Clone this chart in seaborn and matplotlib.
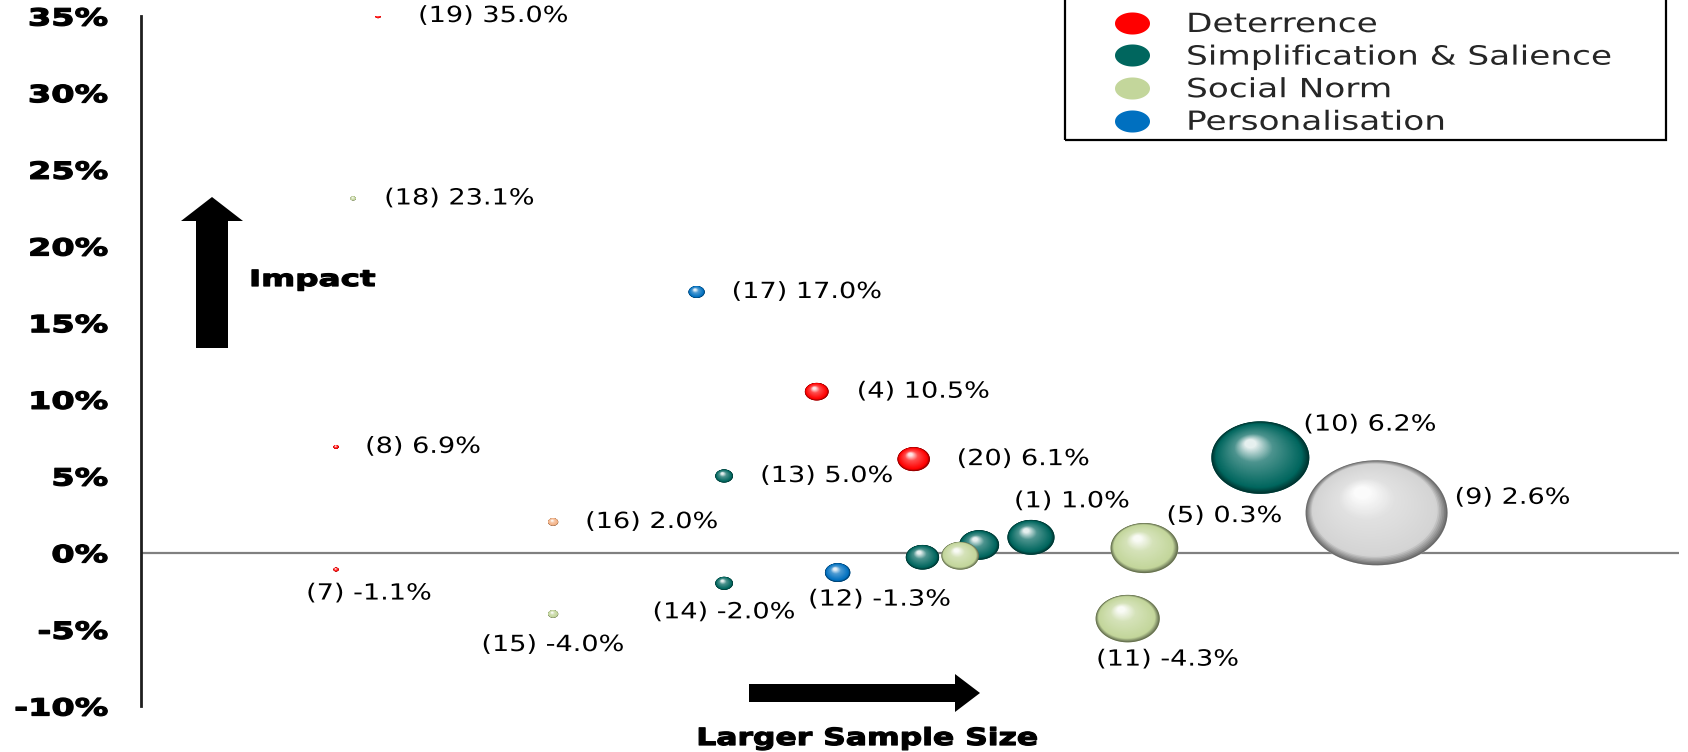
import numpy as np
import pandas as pd
import matplotlib
matplotlib.use("Agg")
import matplotlib.pyplot as plt
import matplotlib.colors as mcolors
import seaborn as sns
from matplotlib.path import Path
from matplotlib.collections import PathCollection
from matplotlib.patches import Polygon, Rectangle
from matplotlib.lines import Line2D
from matplotlib.transforms import Affine2D, IdentityTransform
from matplotlib.patheffects import AbstractPathEffect
from matplotlib.ticker import NullLocator

# ---------------------------------------------------------------- data
study_id = [1, 2, 3, 4, 5, 6, 7, 8, 9, 10,
            11, 12, 13, 14, 15, 16, 17, 18, 19, 20]
impact_pct = [1.0, 0.5, -0.2, 10.5, 0.3, -0.3, -1.1, 6.9, 2.6, 6.2,
              -4.3, -1.3, 5.0, -2.0, -4.0, 2.0, 17.0, 23.1, 35.0, 6.1]
sample_size = [11000, 7900, 7000, 2800, 22700, 5500, 130, 130, 100000, 47600,
               20400, 3200, 1550, 1550, 520, 520, 1300, 145, 170, 5200]
category = ["Simplification & Salience", "Simplification & Salience", "Social Norm",
            "Deterrence", "Social Norm", "Simplification & Salience", "Deterrence",
            "Deterrence", "Other A", "Simplification & Salience", "Social Norm",
            "Personalisation", "Simplification & Salience", "Simplification & Salience",
            "Social Norm", "Other B", "Personalisation", "Social Norm", "Deterrence",
            "Deterrence"]
labelled_ids = [1, 4, 5, 7, 8, 9, 10, 11, 12, 13, 14, 15, 16, 17, 18, 19, 20]

legend_categories = ["Deterrence", "Simplification & Salience", "Social Norm", "Personalisation"]
y_ticks = [-10, -5, 0, 5, 10, 15, 20, 25, 30, 35]
y_tick_labels = [f"{t}%" for t in y_ticks]

df = pd.DataFrame({"id": study_id, "impact": impact_pct,
                   "n": sample_size, "category": category})

# ---------------------------------------------------------------- styling
palette = {
    "Deterrence": "#FF0000",
    "Simplification & Salience": "#00665E",
    "Social Norm": "#C3D69B",
    "Personalisation": "#0070C0",
    "Other A": "#D4D4D4",
    "Other B": "#F4B183",
}

W, H, DPI = 1688, 752, 100
AX_LEFT, AX_RIGHT, AX_TOP, AX_BOTTOM = 141, 1679, 16, 706   # pixel frame of the plot area
N_MAX, S_MAX = 100000, 102.2 ** 2                             # bubble area scale (pt^2)
ASPECT = 0.74                                                 # bubbles are drawn as flattened spheres

# label placement: (dx px, dy px, alignment)
label_place = {
    19: (40, 0, "left"), 18: (31, 0, "left"), 17: (35, 0, "left"), 4: (40, 0, "left"),
    8: (29, 0, "left"), 20: (43, 0, "left"), 13: (36, 0, "left"), 16: (32, 0, "left"),
    10: (43, 33, "left"), 9: (78, 15, "left"), 1: (-17, 36, "left"), 5: (22, 32, "left"),
    12: (42, -27, "center"), 14: (0, -29, "center"), 7: (33, -24, "center"),
    15: (0, -31, "center"), 11: (40, -41, "center"),
}


class StretchX(AbstractPathEffect):
    """Draw text glyphs widened horizontally around their anchor, optionally emboldened."""

    def __init__(self, factor, anchor="left", stroke=0.0):
        super().__init__()
        self.factor = factor
        self.anchor = anchor
        self.stroke = stroke

    def draw_path(self, renderer, gc, tpath, affine, rgbFace=None):
        ext = tpath.get_extents(affine)
        if self.anchor == "left":
            x0 = affine.transform([[0.0, 0.0]])[0][0]
        elif self.anchor == "right":
            x0 = ext.x1
        else:
            x0 = 0.5 * (ext.x0 + ext.x1)
        aff = affine + Affine2D().translate(-x0, 0).scale(self.factor, 1).translate(x0, 0)
        gc0 = renderer.new_gc()
        gc0.copy_properties(gc)
        if self.stroke > 0 and rgbFace is not None:
            gc0.set_linewidth(self.stroke)
            gc0.set_foreground(rgbFace)
            gc0.set_joinstyle("round")
        renderer.draw_path(gc0, tpath, aff, rgbFace)
        gc0.restore()


def fx(px):
    return px / W


def fy(py):
    return 1 - py / H


def ellipse_path(aspect, cx=0.0, cy=0.0, r=1.0, scale=1.0, n=90):
    th = np.linspace(0, 2 * np.pi, n)
    xs = (cx + r * np.cos(th)) * scale
    ys = (cy + r * np.sin(th)) * aspect * scale
    return Path(np.column_stack([xs, ys]), closed=True)


SHADE_STOPS = [0.0, 0.13, 0.68, 1.0]


def shade(base, t):
    b = np.array(mcolors.to_rgb(base))
    stops = [b * 0.5, b, b + (1 - b) * 0.3, b + (1 - b) * 0.9]
    return tuple(np.clip([np.interp(t, SHADE_STOPS, [s[k] for s in stops]) for k in range(3)], 0, 1))


sns.set_style("white")
plt.rcParams["font.family"] = ["DejaVu Sans"]

fig = plt.figure(figsize=(W / DPI, H / DPI), dpi=DPI)
ax = fig.add_axes([fx(AX_LEFT), fy(AX_BOTTOM),
                   (AX_RIGHT - AX_LEFT) / W, (AX_BOTTOM - AX_TOP) / H])

# zero reference line
ax.axhline(0, color="#808080", lw=1.6, zorder=1)

# flat bubbles (sample size drives both position and area)
bubble_marker = ellipse_path(ASPECT)
sns.scatterplot(data=df, x="n", y="impact", hue="category", palette=palette,
                size="n", sizes=(0, S_MAX), size_norm=(0, N_MAX),
                marker=bubble_marker, edgecolor="none", linewidth=0,
                legend=False, ax=ax, zorder=2)

# spherical shading drawn bubble by bubble on top
ts = np.linspace(0, 1, 48)
HX, HY = -0.2, 0.38
layer_paths = [ellipse_path(ASPECT, cx=HX * t, cy=HY * t, r=1 - 0.88 * t, scale=0.5) for t in ts]
for _, row in df.iterrows():
    s = S_MAX * row["n"] / N_MAX
    cols = [shade(palette[row["category"]], t) for t in ts]
    pc = PathCollection(layer_paths, sizes=[s], offsets=[(row["n"], row["impact"])],
                        offset_transform=ax.transData, facecolors=cols,
                        edgecolors="none", linewidths=0, zorder=3 + 0.01 * row["id"])
    ax.add_collection(pc, autolim=False)
    pc.set_transform(IdentityTransform())

# data labels
for _, row in df.iterrows():
    sid = int(row["id"])
    if sid not in labelled_ids:
        continue
    dx, dy, ha = label_place[sid]
    t = ax.annotate(f"({sid}) {row['impact']:.1f}%", xy=(row["n"], row["impact"]),
                    xytext=(dx, dy), textcoords="offset pixels",
                    ha=ha, va="center", fontsize=16, color="black", zorder=10)
    t.set_path_effects([StretchX(1.22, ha)])

# axes
ax.set_xscale("log")
ax.set_xlim(37.4, 690000)
ax.set_ylim(-10, 35)
ax.xaxis.set_major_locator(NullLocator())
ax.xaxis.set_minor_locator(NullLocator())
ax.set_yticks(y_ticks)
ax.set_yticklabels(y_tick_labels, fontsize=17, fontweight="bold", color="black")
ax.tick_params(axis="y", length=0, pad=23.8)
for lbl in ax.get_yticklabels():
    lbl.set_path_effects([StretchX(1.42, "right", stroke=0.9)])
ax.set_xlabel("")
ax.set_ylabel("")
for side in ("top", "right", "bottom"):
    ax.spines[side].set_visible(False)
ax.spines["left"].set_color("#1f1f1f")
ax.spines["left"].set_linewidth(2.0)

# direction arrows
up_arrow = [(196, 348), (228, 348), (228, 221), (243, 221), (212, 197), (181, 221), (196, 221)]
right_arrow = [(749, 684), (955, 684), (955, 674), (980, 693), (955, 712), (955, 702), (749, 702)]
for pts in (up_arrow, right_arrow):
    fig.add_artist(Polygon([(fx(x), fy(y)) for x, y in pts], closed=True,
                           transform=fig.transFigure, facecolor="black", edgecolor="none"))

t_imp = fig.text(fx(249), fy(286), "Impact", ha="left", va="baseline",
                 fontsize=16, fontweight="bold", color="black")
t_imp.set_path_effects([StretchX(1.47, "left", stroke=0.9)])
t_size = fig.text(fx(867.5), fy(745), "Larger Sample Size", ha="center", va="baseline",
                  fontsize=17, fontweight="bold", color="black")
t_size.set_path_effects([StretchX(1.33, "center", stroke=0.9)])

# legend
legend_marker = ellipse_path(0.63)
handles = [Line2D([], [], linestyle="none", marker=legend_marker, markersize=25.2,
                  markerfacecolor=palette[c], markeredgewidth=0) for c in legend_categories]
leg = ax.legend(handles, legend_categories, loc="upper left",
                bbox_to_anchor=(fx(1114), fy(12)), bbox_transform=fig.transFigure,
                frameon=False, fontsize=19, handlelength=1.4, handletextpad=1.33,
                borderpad=0, borderaxespad=0, labelspacing=0.25)
for txt in leg.get_texts():
    txt.set_path_effects([StretchX(1.3, "left")])
fig.add_artist(Rectangle((fx(1065), fy(140)), (1666 - 1065) / W, 150 / H,
                         transform=fig.transFigure, fill=False,
                         edgecolor="black", linewidth=1.6))

fig.savefig("out.png", dpi=DPI)
